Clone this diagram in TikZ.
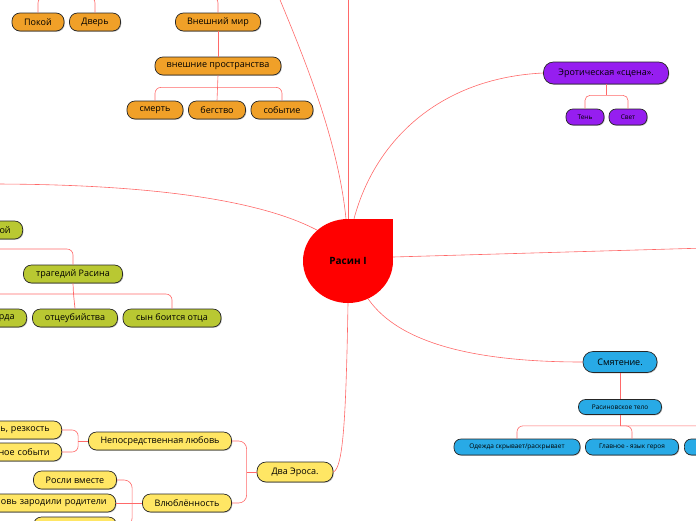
\documentclass[tikz,border=0pt]{standalone}
\usepackage{fontspec}
\setmainfont{Open Sans}
\usetikzlibrary{shapes.geometric,shadows}
\definecolor{orng}{RGB}{240,160,40}
\definecolor{purp}{RGB}{150,30,240}
\definecolor{blu}{RGB}{40,170,230}
\definecolor{grn}{RGB}{185,200,50}
\definecolor{yel}{RGB}{255,230,100}
\definecolor{connc}{RGB}{255,105,105}
\begin{document}
\begin{tikzpicture}[x=1pt,y=-1pt,
  conn/.style={draw=connc, line width=0.6pt},
  tbox/.style={draw=black!85, line width=0.7pt, rounded corners=8pt, minimum height=18pt,
    inner sep=0pt, text=black, font=\fontsize{9}{11}\selectfont,
    drop shadow={shadow xshift=0.8pt, shadow yshift=-0.8pt, opacity=0.25, fill=black}},
  sbox/.style={tbox, minimum height=16pt, rounded corners=7pt, font=\fontsize{6.5}{8}\selectfont},
  partial/.style={anchor=east, text width=150pt, align=right, inner xsep=12pt},
  obox/.style={tbox, fill=orng},
  pbox/.style={tbox, fill=purp},
  pboxs/.style={sbox, fill=purp},
  bbox/.style={tbox, fill=blu},
  bboxs/.style={sbox, fill=blu},
  gbox/.style={tbox, fill=grn},
  ybox/.style={tbox, fill=yel}]
\useasboundingbox (0,0) rectangle (696,520);
\clip (0,0) rectangle (696,520);

% root
\fill[red] (348,219) rectangle (393,261);
\node[ellipse, fill=red, minimum width=90pt, minimum height=84pt, inner sep=0pt,
  font=\bfseries\fontsize{10}{12}\selectfont] (root) at (348,261) {Расин I};

% orange
\node[obox, minimum width=52pt] (pokoj) at (38,22) {Покой};
\node[obox, minimum width=51pt] (dver) at (95,22) {Дверь};
\node[obox, minimum width=85pt] (vmir) at (218,22) {Внешний мир};
\node[obox, minimum width=126pt] (vpro) at (218,66) {внешние пространства};
\node[obox, minimum width=56pt] (smert) at (155,110) {смерть};
\node[obox, minimum width=57pt] (beg) at (217,110) {бегство};
\node[obox, minimum width=62pt] (sob) at (282,110) {событие};

% purple
\node[pbox, minimum width=125pt, minimum height=22pt, rounded corners=10pt] (ero) at (606,73) {Эротическая «сцена».};
\node[pboxs, minimum width=38pt] (ten) at (585,117) {Тень};
\node[pboxs, minimum width=38pt] (svet) at (628,117) {Свет};

% blue
\node[bbox, minimum width=74pt, minimum height=21pt, rounded corners=10pt] (smy) at (620,362) {Смятение.};
\node[bboxs, minimum width=83pt, minimum height=15pt] (rtelo) at (620,407) {Расиновское тело};
\node[bboxs, minimum width=126pt] (odezh) at (517,447) {Одежда скрывает/раскрывает};
\node[bboxs, minimum width=93pt] (glav) at (632,447) {Главное - язык героя};
\node[bboxs, minimum width=60pt, anchor=west] (b3) at (684,447) {};

% green
\node[gbox, partial] (goj) at (23,230) {ой};
\node[gbox, minimum width=99pt] (trag) at (73,274) {трагедий Расина};
\node[gbox, partial] (rda) at (27,318) {рда};
\node[gbox, minimum width=85pt] (otc) at (75,318) {отцеубийства};
\node[gbox, minimum width=98pt] (syn) at (172,318) {сын боится отца};

% yellow
\node[ybox, minimum width=76pt, minimum height=20pt, rounded corners=9pt] (dva) at (295,472) {Два Эроса.};
\node[ybox, minimum width=143pt] (nep) at (160,441) {Непосредственная любовь};
\node[ybox, minimum width=89pt] (vl) at (187,503) {Влюблённость};
\node[ybox, partial] (rez) at (62,430) {ь, резкость};
\node[ybox, partial] (neozh) at (62,452) {ное событи};
\node[ybox, minimum width=83pt] (rosli) at (75,480) {Росли вместе};
\node[ybox, partial, inner xsep=9pt] (rod) at (116,503) {овь зародили родители};
\node[ybox, minimum width=83pt] (y3) at (75,526) {};

% off-image coordinates
\coordinate (offTop1) at (348,-10);
\coordinate (offTop2) at (278,-5);
\coordinate (offLeft) at (-10,184);
\coordinate (offRight) at (706,248);
\coordinate (topbusL) at (66,-3);
\coordinate (topbusM) at (190,-3);
\coordinate (gLeft) at (-10,249);
\coordinate (gBus) at (73.5,294);

% root connectors
\draw[conn] (root.north) -- (offTop1);
\draw[conn] ([xshift=-2pt]root.north) .. controls (338,140) and (305,60) .. (offTop2);
\draw[conn] ([xshift=6pt]root.north) .. controls (375,140) and (440,78) .. (ero.west);
\draw[conn] (root.135) .. controls (260,200) and (150,184) .. (offLeft);
\draw[conn] ([yshift=4pt]root.east) -- (offRight);
\draw[conn] (root.south) .. controls (346,420) and (343,468) .. (dva.east);
\draw[conn] (root.-62) .. controls (400,345) and (480,362) .. (smy.west);

% orange connectors
\draw[conn, rounded corners=6pt] (pokoj.north) |- (topbusL) -| (dver.north);
\draw[conn, rounded corners=6pt] (vmir.north) |- (topbusM);
\draw[conn] (vmir.south) -- (vpro.north);
\draw[conn, rounded corners=6pt] (smert.north) |- ([yshift=-12pt]vpro.south) -| (sob.north);
\draw[conn] (vpro.south) -- (beg.north);

% purple connectors
\draw[conn, rounded corners=5pt] (ten.north) |- ([yshift=-11pt]ero.south) -| (svet.north);
\draw[conn] (ero.south) -- ([yshift=-11pt]ero.south);

% blue connectors
\draw[conn] (smy.south) -- (rtelo.north);
\draw[conn, rounded corners=6pt] (odezh.north) |- ([yshift=-11pt]rtelo.south) -| (glav.north);
\draw[conn, rounded corners=6pt] ([yshift=-11pt]rtelo.south) -| (b3.north);
\draw[conn] (rtelo.south) -- ([yshift=-11pt]rtelo.south);

% green connectors
\draw[conn, rounded corners=6pt] (trag.north) |- (gLeft);
\draw[conn, rounded corners=6pt] (rda.north) |- (gBus) -| (syn.north);
\draw[conn, line width=0.7pt] (trag.south) -- (gBus) -- (otc.north);

% yellow connectors
\draw[conn, rounded corners=8pt] (nep.east) -| ([xshift=-10pt]dva.west) |- (vl.east);
\draw[conn] (dva.west) -- ([xshift=-10pt]dva.west);
\draw[conn, rounded corners=6pt] (rez.east) -| ([xshift=-10pt]nep.west) |- (neozh.east);
\draw[conn] (nep.west) -- ([xshift=-10pt]nep.west);
\draw[conn, rounded corners=8pt] (rosli.east) -| ([xshift=-10pt]vl.west) |- (y3.east);
\draw[conn] (vl.west) -- (rod.east);
\end{tikzpicture}
\end{document}
